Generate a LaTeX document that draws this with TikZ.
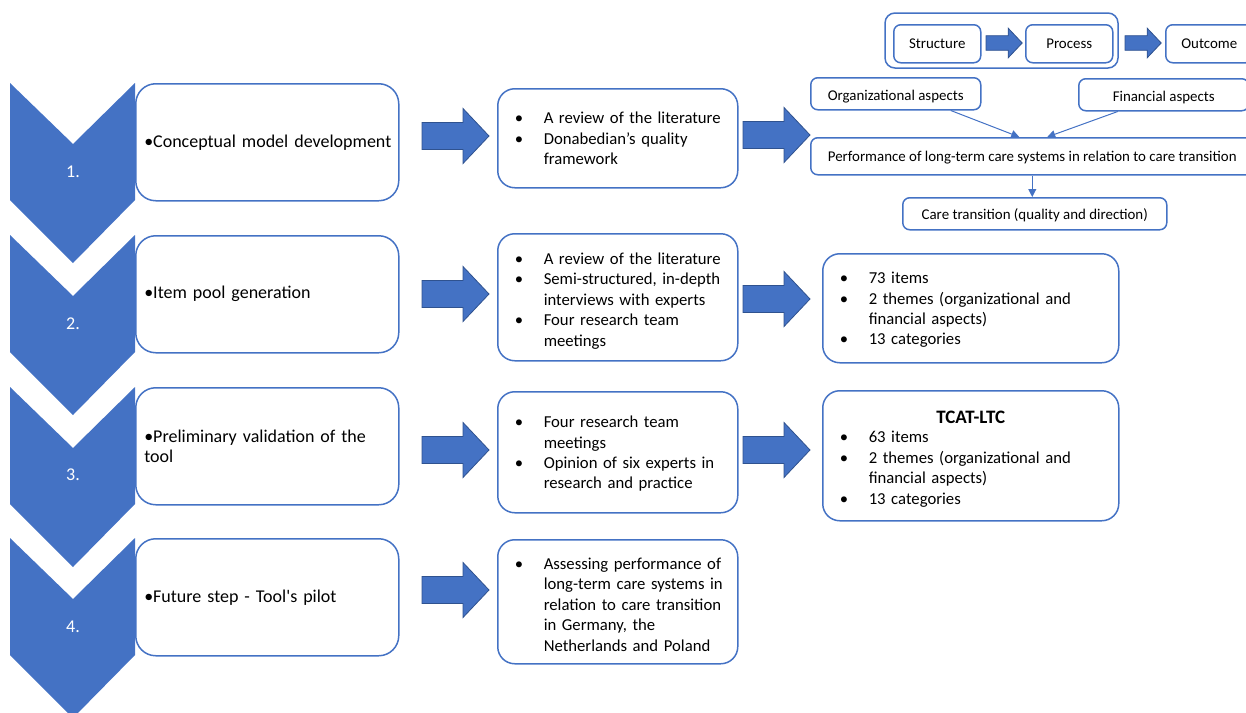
\documentclass[tikz,border=0pt]{standalone}
\usepackage{fontspec}
\setmainfont{Carlito}
\usetikzlibrary{arrows.meta,positioning}

\definecolor{stepblue}{HTML}{4472C4}
\definecolor{arrowedge}{HTML}{2F528F}

\newenvironment{bullets}{\begin{tabular}{@{}p{29pt}@{}l@{}}}{\end{tabular}}

\tikzset{
    stepbox/.style={draw=stepblue, line width=1.5pt, rounded corners=20pt, anchor=north west,
        minimum width=263pt, minimum height=117pt, text width=246pt, inner xsep=8.5pt,
        align=left, font=\fontsize{18}{20}\selectfont},
    listbox/.style={draw=stepblue, line width=1.5pt, rounded corners=17pt, anchor=north west,
        inner xsep=17pt, align=left, font=\fontsize{16.7}{20.4}\selectfont},
    listshift/.style={execute at begin node={\vspace*{#1}}},
    smallbox/.style={draw=stepblue, line width=1.5pt, rounded corners=7pt, anchor=north west,
        inner sep=0pt, text height=1.1em, text depth=0.2em, font=\fontsize{14.9}{17}\selectfont},
    lowtext/.style={text height=#1},
    numlabel/.style={text=white, font=\fontsize{18}{22}\selectfont},
    thinarrow/.style={draw=stepblue, line width=1pt, -{Triangle[length=8pt,width=8pt]}},
    blockarrow/.pic={
        \filldraw[fill=stepblue, draw=arrowedge, line width=0.8pt]
            (0,-13.5) -- (41,-13.5) -- (41,-27.5) -- (67,0) -- (41,27.5) -- (41,13.5) -- (0,13.5) -- cycle;
    },
    chevron/.pic={
        \fill[stepblue] (-63,0) -- (0,61) -- (62,0) -- (62,117) -- (0,180) -- (-63,117) -- cycle;
    }
}

\begin{document}
\begin{tikzpicture}[x=1pt,y=-1pt]

    \clip (0,0) rectangle (1246,712);

    %steps on the left:
    \node[stepbox] (s1) at (135,83) {\mbox{•Conceptual model development}};
    \node[stepbox] (s2) at (135,235) {•Item pool generation};
    \node[stepbox] (s3) at (135,387) {•Preliminary validation of the\\tool};
    \node[stepbox] (s4) at (135,538) {•Future step - Tool\textquotesingle s pilot};

    \pic at (73,83) {chevron};
    \pic at (73,235) {chevron};
    \pic at (73,387) {chevron};
    \pic at (73,538) {chevron};

    \node[numlabel] (n1) at (73,172) {1.};
    \node[numlabel] (n2) at (73,324) {2.};
    \node[numlabel] (n3) at (73,475) {3.};
    \node[numlabel] (n4) at (73,627) {4.};

    %methods:
    \node[listbox, listshift=-4pt, minimum width=240pt, minimum height=99pt, text width=206pt] (m1) at (497,88) {%
        \begin{bullets}
        • & A review of the literature\\
        • & Donabedian’s quality\\
          & framework
        \end{bullets}};
    \node[listbox, listshift=-8pt, minimum width=240pt, minimum height=127pt, text width=206pt] (m2) at (497,233) {%
        \begin{bullets}
        • & A review of the literature\\
        • & Semi-structured, in-depth\\
          & interviews with experts\\
        • & Four research team\\
          & meetings
        \end{bullets}};
    \node[listbox, listshift=-4pt, minimum width=240pt, minimum height=121pt, text width=206pt] (m3) at (497,391) {%
        \begin{bullets}
        • & Four research team\\
          & meetings\\
        • & Opinion of six experts in\\
          & research and practice
        \end{bullets}};
    \node[listbox, listshift=-9pt, minimum width=240pt, minimum height=124pt, text width=206pt] (m4) at (497,539) {%
        \begin{bullets}
        • & Assessing performance of\\
          & long-term care systems in\\
          & relation to care transition\\
          & in Germany, the\\
          & Netherlands and Poland
        \end{bullets}};

    %results:
    \node[listbox, listshift=-4pt, minimum width=296pt, minimum height=109pt, text width=262pt] (r2) at (822,253) {%
        \begin{bullets}
        • & 73 items\\
        • & 2 themes (organizational and\\
          & financial aspects)\\
        • & 13 categories
        \end{bullets}};
    \node[listbox, listshift=-8pt, minimum width=296pt, minimum height=130pt, text width=262pt] (r3) at (822,390) {%
        \begin{bullets}
        \multicolumn{2}{@{}p{262pt}@{}}{\centering\fontsize{19}{22}\selectfont\bfseries TCAT-LTC}\\[-1pt]
        • & 63 items\\
        • & 2 themes (organizational and\\
          & financial aspects)\\
        • & 13 categories
        \end{bullets}};

    %block arrows:
    \pic at (422,136) {blockarrow};
    \pic at (422,294) {blockarrow};
    \pic at (422,450) {blockarrow};
    \pic at (422,590) {blockarrow};
    \pic at (743,135) {blockarrow};
    \pic at (743,299) {blockarrow};
    \pic at (743,450) {blockarrow};

    %quality framework:
    \draw[stepblue, line width=1.5pt, rounded corners=10pt] (885,13) rectangle (1118,68);
    \node[smallbox, minimum width=87pt, minimum height=38pt] (struct) at (893,24) {Structure};
    \node[smallbox, minimum width=87pt, minimum height=38pt] (proc) at (1025,24) {Process};
    \node[smallbox, minimum width=87pt, minimum height=38pt] (outc) at (1165,24) {Outcome};
    \pic[scale=0.54] at (986,43) {blockarrow};
    \pic[scale=0.54] at (1125,43) {blockarrow};

    \node[smallbox, lowtext=1.6em, minimum width=170pt, minimum height=32pt] (org) at (810,77) {Organizational aspects};
    \node[smallbox, lowtext=1.6em, minimum width=170pt, minimum height=32pt] (fin) at (1078,78) {Financial aspects};
    \node[smallbox, lowtext=1.3em, minimum width=443pt, minimum height=37pt] (perf) at (810,137)
        {Performance of long-term care systems in relation to care transition};
    \node[smallbox, lowtext=1.3em, minimum width=264pt, minimum height=32pt] (care) at (902,197)
        {Care transition (quality and direction)};

    \draw[thinarrow] ([xshift=55pt]org.south) -- ([xshift=-13pt]perf.north);
    \draw[thinarrow] ([xshift=-46pt]fin.south) -- ([xshift=15pt]perf.north);
    \draw[thinarrow] (perf.south) -- (perf.south |- care.north);

\end{tikzpicture}
\end{document}
